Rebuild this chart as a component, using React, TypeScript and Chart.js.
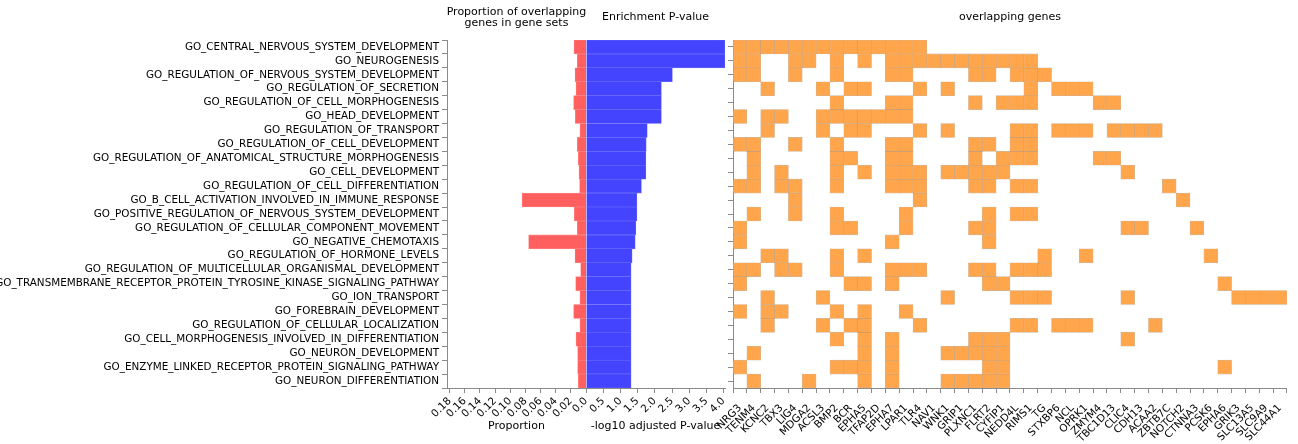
import React, { useEffect, useRef } from 'react';
import { Chart, registerables } from 'chart.js';

Chart.register(...registerables);

// ---------------- data ----------------
const goTerms = [
  'GO_CENTRAL_NERVOUS_SYSTEM_DEVELOPMENT',
  'GO_NEUROGENESIS',
  'GO_REGULATION_OF_NERVOUS_SYSTEM_DEVELOPMENT',
  'GO_REGULATION_OF_SECRETION',
  'GO_REGULATION_OF_CELL_MORPHOGENESIS',
  'GO_HEAD_DEVELOPMENT',
  'GO_REGULATION_OF_TRANSPORT',
  'GO_REGULATION_OF_CELL_DEVELOPMENT',
  'GO_REGULATION_OF_ANATOMICAL_STRUCTURE_MORPHOGENESIS',
  'GO_CELL_DEVELOPMENT',
  'GO_REGULATION_OF_CELL_DIFFERENTIATION',
  'GO_B_CELL_ACTIVATION_INVOLVED_IN_IMMUNE_RESPONSE',
  'GO_POSITIVE_REGULATION_OF_NERVOUS_SYSTEM_DEVELOPMENT',
  'GO_REGULATION_OF_CELLULAR_COMPONENT_MOVEMENT',
  'GO_NEGATIVE_CHEMOTAXIS',
  'GO_REGULATION_OF_HORMONE_LEVELS',
  'GO_REGULATION_OF_MULTICELLULAR_ORGANISMAL_DEVELOPMENT',
  'GO_TRANSMEMBRANE_RECEPTOR_PROTEIN_TYROSINE_KINASE_SIGNALING_PATHWAY',
  'GO_ION_TRANSPORT',
  'GO_FOREBRAIN_DEVELOPMENT',
  'GO_REGULATION_OF_CELLULAR_LOCALIZATION',
  'GO_CELL_MORPHOGENESIS_INVOLVED_IN_DIFFERENTIATION',
  'GO_NEURON_DEVELOPMENT',
  'GO_ENZYME_LINKED_RECEPTOR_PROTEIN_SIGNALING_PATHWAY',
  'GO_NEURON_DIFFERENTIATION',
];

const proportion = [
  0.0158, 0.0115, 0.0145, 0.0132, 0.0163, 0.0141, 0.0079, 0.0115, 0.0101, 0.0092,
  0.0084, 0.0844, 0.0154, 0.0115, 0.0757, 0.0145, 0.0070, 0.0136, 0.0079, 0.0163,
  0.0079, 0.0132, 0.0110, 0.0110, 0.0101,
];

const negLog10P = [
  4.04, 4.04, 2.51, 2.19, 2.19, 2.19, 1.78, 1.75, 1.74, 1.74,
  1.61, 1.48, 1.48, 1.45, 1.43, 1.34, 1.31, 1.31, 1.31, 1.31,
  1.31, 1.31, 1.31, 1.31, 1.31,
];

const genes = [
  'NRG3', 'TENM4', 'KCNC2', 'TBX3', 'LIG4', 'MDGA2', 'ACSL3', 'BMP2', 'BCR', 'EPHA5',
  'TFAP2D', 'EPHA7', 'LPAR1', 'TLR4', 'NAV1', 'WNK1', 'GRIP1', 'PLXNC1', 'FLRT2', 'CYFIP1',
  'NEDD4L', 'RIMS1', 'TG', 'STXBP6', 'NCL', 'OPRK1', 'ZMYM4', 'TBC1D13', 'CLIC4', 'CDH13',
  'ACAA2', 'ZBTB7C', 'NOTCH2', 'CTNNA3', 'PCSK6', 'EPHA6', 'GRIK3', 'SLC13A5', 'SLC9A9', 'SLC44A1',
];

// genes of each GO term (same order as goTerms)
const overlapGenes = [
  ['NRG3', 'TENM4', 'KCNC2', 'TBX3', 'LIG4', 'MDGA2', 'ACSL3', 'BMP2', 'BCR', 'EPHA5', 'TFAP2D', 'EPHA7', 'LPAR1', 'TLR4'],
  ['NRG3', 'TENM4', 'LIG4', 'MDGA2', 'BMP2', 'EPHA5', 'EPHA7', 'LPAR1', 'TLR4', 'NAV1', 'WNK1', 'GRIP1', 'PLXNC1', 'FLRT2', 'CYFIP1', 'NEDD4L', 'RIMS1'],
  ['NRG3', 'TENM4', 'LIG4', 'BMP2', 'EPHA7', 'LPAR1', 'PLXNC1', 'FLRT2', 'NEDD4L', 'RIMS1', 'TG'],
  ['KCNC2', 'ACSL3', 'BCR', 'EPHA5', 'TLR4', 'WNK1', 'RIMS1', 'STXBP6', 'NCL', 'OPRK1'],
  ['BMP2', 'EPHA7', 'LPAR1', 'PLXNC1', 'CYFIP1', 'NEDD4L', 'RIMS1', 'ZMYM4', 'TBC1D13'],
  ['NRG3', 'KCNC2', 'TBX3', 'ACSL3', 'BMP2', 'BCR', 'EPHA5', 'TFAP2D', 'EPHA7', 'LPAR1'],
  ['KCNC2', 'ACSL3', 'BCR', 'EPHA5', 'TLR4', 'WNK1', 'NEDD4L', 'RIMS1', 'STXBP6', 'NCL', 'OPRK1', 'TBC1D13', 'CLIC4', 'CDH13', 'ACAA2'],
  ['NRG3', 'TENM4', 'LIG4', 'BMP2', 'EPHA7', 'LPAR1', 'PLXNC1', 'FLRT2', 'NEDD4L', 'RIMS1'],
  ['TENM4', 'BMP2', 'BCR', 'EPHA7', 'LPAR1', 'PLXNC1', 'CYFIP1', 'NEDD4L', 'RIMS1', 'ZMYM4', 'TBC1D13'],
  ['TENM4', 'TBX3', 'BMP2', 'EPHA5', 'EPHA7', 'LPAR1', 'TLR4', 'WNK1', 'GRIP1', 'PLXNC1', 'FLRT2', 'CYFIP1', 'CLIC4'],
  ['NRG3', 'TENM4', 'TBX3', 'LIG4', 'BMP2', 'EPHA7', 'LPAR1', 'TLR4', 'PLXNC1', 'FLRT2', 'NEDD4L', 'RIMS1', 'ZBTB7C'],
  ['LIG4', 'TLR4', 'NOTCH2'],
  ['TENM4', 'LIG4', 'BMP2', 'LPAR1', 'FLRT2', 'NEDD4L', 'RIMS1'],
  ['NRG3', 'BMP2', 'BCR', 'LPAR1', 'PLXNC1', 'FLRT2', 'CLIC4', 'CDH13', 'CTNNA3'],
  ['NRG3', 'EPHA7', 'FLRT2'],
  ['KCNC2', 'TBX3', 'BMP2', 'EPHA5', 'TG', 'OPRK1', 'PCSK6'],
  ['NRG3', 'TENM4', 'TBX3', 'LIG4', 'BMP2', 'EPHA7', 'LPAR1', 'TLR4', 'PLXNC1', 'FLRT2', 'NEDD4L', 'RIMS1', 'TG'],
  ['NRG3', 'BCR', 'EPHA5', 'EPHA7', 'FLRT2', 'CYFIP1', 'EPHA6'],
  ['KCNC2', 'ACSL3', 'WNK1', 'NEDD4L', 'RIMS1', 'TG', 'CLIC4', 'GRIK3', 'SLC13A5', 'SLC9A9', 'SLC44A1'],
  ['NRG3', 'KCNC2', 'TBX3', 'BMP2', 'EPHA5', 'LPAR1'],
  ['KCNC2', 'ACSL3', 'BCR', 'EPHA5', 'TLR4', 'NEDD4L', 'RIMS1', 'STXBP6', 'NCL', 'OPRK1', 'ACAA2'],
  ['BMP2', 'EPHA5', 'EPHA7', 'PLXNC1', 'FLRT2', 'CYFIP1', 'CLIC4'],
  ['TENM4', 'EPHA5', 'EPHA7', 'WNK1', 'GRIP1', 'PLXNC1', 'FLRT2', 'CYFIP1'],
  ['NRG3', 'BMP2', 'BCR', 'EPHA5', 'EPHA7', 'FLRT2', 'CYFIP1', 'EPHA6'],
  ['TENM4', 'MDGA2', 'EPHA5', 'EPHA7', 'WNK1', 'GRIP1', 'PLXNC1', 'FLRT2', 'CYFIP1'],
];

const proportionTicks = [0.02, 0.04, 0.06, 0.08, 0.1, 0.12, 0.14, 0.16, 0.18];
const pValueTicks = [0, 0.5, 1, 1.5, 2, 2.5, 3, 3.5, 4];

// ---------------- layout / style ----------------
const W = 1298;
const H = 444;
const TOP = 40;
const BOTTOM = 388;
const PROP_LEFT = 447;
const ZERO_X = 586;
const P_RIGHT = 725;
const HM_LEFT = 733;
const HM_RIGHT = 1289;

const FONT = "'DejaVu Sans', 'Liberation Sans', sans-serif";
const tickFont = { family: FONT, size: 10.4 };
const titleFont = { family: FONT, size: 11 };
const AXIS = '#8a8a8a';
const RED = '#ff5f5f';
const BLUE = '#4444ff';
const ORANGE = '#ffa64d';

const panelTitle = {
  id: 'panelTitle',
  afterDraw(chart: any, _args: any, opts: any) {
    if (!opts || !opts.lines) return;
    const ctx = chart.ctx;
    const a = chart.chartArea;
    ctx.save();
    ctx.font = `11px ${FONT}`;
    ctx.fillStyle = '#000';
    ctx.textAlign = 'center';
    ctx.textBaseline = 'middle';
    opts.lines.forEach((t: string, i: number) => {
      ctx.fillText(t, (a.left + a.right) / 2, opts.y + i * opts.gap);
    });
    ctx.restore();
  },
};

function xAxisCommon(title: string, pad: number) {
  return {
    grid: { drawOnChartArea: false, tickLength: 5, color: AXIS },
    border: { color: AXIS },
    ticks: { font: tickFont, color: '#000', minRotation: 45, maxRotation: 45, autoSkip: false, padding: pad },
    title: { display: !!title, text: title, font: titleFont, color: '#000', padding: { top: 0, bottom: 11 } },
    afterFit: (s: any) => { s.height = H - BOTTOM; },
  };
}

function proportionConfig(): any {
  const x = xAxisCommon('Proportion', 2);
  return {
    type: 'bar',
    data: {
      labels: goTerms,
      datasets: [{
        data: proportion,
        backgroundColor: RED,
        borderColor: '#ff8a8a',
        borderWidth: 0.6,
        barPercentage: 1,
        categoryPercentage: 1,
      }],
    },
    options: {
      indexAxis: 'y',
      responsive: false,
      animation: false,
      events: [],
      layout: { padding: { left: 0, right: W - ZERO_X, top: TOP, bottom: 0 } },
      plugins: {
        legend: { display: false },
        tooltip: { enabled: false },
        panelTitle: { lines: ['Proportion of overlapping', 'genes in gene sets'], y: 12.5, gap: 11 },
      },
      scales: {
        x: {
          ...x,
          type: 'linear',
          reverse: true,
          min: 0,
          max: 0.1835,
          afterBuildTicks: (s: any) => { s.ticks = proportionTicks.map((v) => ({ value: v })); },
          ticks: { ...x.ticks, callback: (v: any) => Number(v).toFixed(2) },
        },
        y: {
          type: 'category',
          grid: { drawOnChartArea: false, tickLength: 5, color: AXIS },
          border: { color: AXIS },
          ticks: { font: tickFont, color: '#000', autoSkip: false, padding: 3 },
          afterFit: (s: any) => { s.width = PROP_LEFT; },
        },
      },
    },
    plugins: [panelTitle],
  };
}

function pValueConfig(): any {
  const x = xAxisCommon('-log10 adjusted P-value', 2);
  return {
    type: 'bar',
    data: {
      labels: goTerms,
      datasets: [{
        data: negLog10P,
        backgroundColor: BLUE,
        borderColor: '#7070ff',
        borderWidth: 0.6,
        barPercentage: 1,
        categoryPercentage: 1,
      }],
    },
    options: {
      indexAxis: 'y',
      responsive: false,
      animation: false,
      events: [],
      layout: { padding: { left: ZERO_X, right: W - P_RIGHT, top: TOP, bottom: 0 } },
      plugins: {
        legend: { display: false },
        tooltip: { enabled: false },
        panelTitle: { lines: ['Enrichment P-value'], y: 17.5, gap: 11 },
      },
      scales: {
        x: {
          ...x,
          type: 'linear',
          min: 0,
          max: 4.04,
          afterBuildTicks: (s: any) => { s.ticks = pValueTicks.map((v) => ({ value: v })); },
          ticks: { ...x.ticks, callback: (v: any) => Number(v).toFixed(1) },
        },
        y: { type: 'category', display: false },
      },
    },
    plugins: [panelTitle],
  };
}

function heatmapConfig(): any {
  const x = xAxisCommon('', 9);
  return {
    type: 'bar',
    data: {
      labels: genes,
      datasets: goTerms.map((term, r) => ({
        label: term,
        data: overlapGenes[r].map((g) => ({ x: g, y: [r - 0.5, r + 0.5] })),
        backgroundColor: ORANGE,
        borderColor: 'rgba(170,120,70,0.55)',
        borderWidth: 0.6,
        borderSkipped: false,
        barPercentage: 1,
        categoryPercentage: 1,
        grouped: false,
      })),
    },
    options: {
      responsive: false,
      animation: false,
      events: [],
      layout: { padding: { left: HM_LEFT - 5, right: W - HM_RIGHT, top: TOP, bottom: 0 } },
      plugins: {
        legend: { display: false },
        tooltip: { enabled: false },
        panelTitle: { lines: ['overlapping genes'], y: 17.5, gap: 11 },
      },
      scales: {
        x: { ...x, type: 'category', offset: true },
        y: {
          type: 'linear',
          reverse: true,
          min: -0.5,
          max: goTerms.length - 0.5,
          afterBuildTicks: (s: any) => { s.ticks = goTerms.map((_t, i) => ({ value: i })); },
          grid: { drawOnChartArea: false, tickLength: 5, color: AXIS },
          border: { color: AXIS },
          ticks: { display: false },
          afterFit: (s: any) => { s.width = 5; },
        },
      },
    },
    plugins: [panelTitle],
  };
}

export default function App() {
  const c1 = useRef<HTMLCanvasElement>(null);
  const c2 = useRef<HTMLCanvasElement>(null);
  const c3 = useRef<HTMLCanvasElement>(null);

  useEffect(() => {
    const charts = [
      new Chart(c1.current as HTMLCanvasElement, proportionConfig()),
      new Chart(c2.current as HTMLCanvasElement, pValueConfig()),
      new Chart(c3.current as HTMLCanvasElement, heatmapConfig()),
    ];
    return () => charts.forEach((c) => c.destroy());
  }, []);

  const cs: React.CSSProperties = { position: 'absolute', left: 0, top: 0, width: W, height: H };
  return (
    <div style={{ position: 'absolute', left: 0, top: 0, width: W, height: H, background: '#fff', overflow: 'hidden' }}>
      <canvas ref={c1} width={W} height={H} style={cs} />
      <canvas ref={c2} width={W} height={H} style={cs} />
      <canvas ref={c3} width={W} height={H} style={cs} />
    </div>
  );
}
